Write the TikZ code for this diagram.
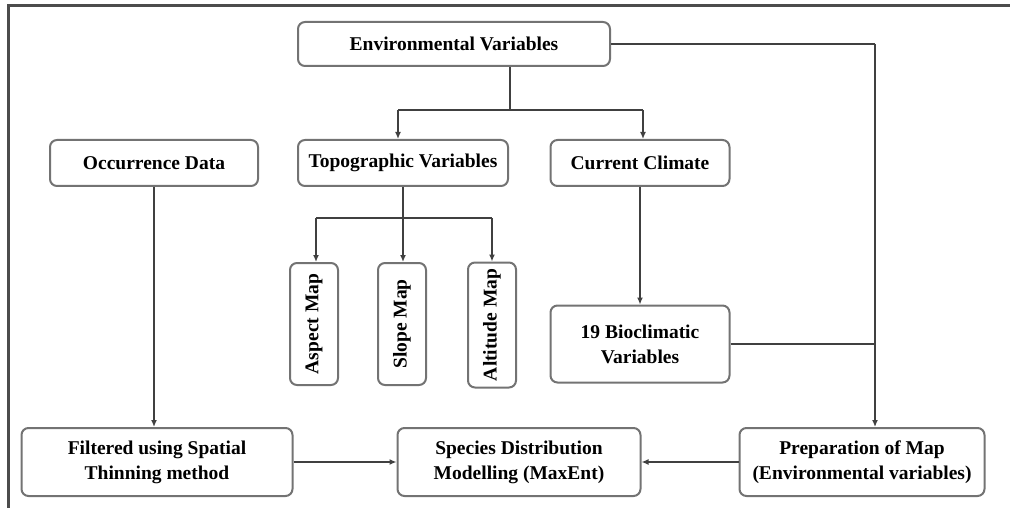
\documentclass[tikz,border=0pt]{standalone}
\usepackage{fontspec}
\setmainfont{Liberation Serif}
\usetikzlibrary{arrows.meta}
\begin{document}
\begin{tikzpicture}[x=1pt,y=-1pt,
  box/.style={draw=black!55, line width=2pt, rounded corners=7pt, fill=white,
    align=center, font=\fontsize{19.5}{25}\selectfont\bfseries, inner sep=0pt},
  conn/.style={draw=black!75, line width=1.3pt},
  arr/.style={conn, -{Latex[length=7pt,width=6pt]}}]
\useasboundingbox (0,0) rectangle (1010,508);
\draw[black!70, line width=3pt] (8,508) -- (8,6) -- (1010,6);
% nodes
\node[box, minimum width=312pt, minimum height=44pt] (env) at (454,44) {Environmental Variables};
\node[box, minimum width=208pt, minimum height=46pt] (occ) at (154,163) {Occurrence Data};
\node[box, minimum width=210pt, minimum height=46pt] (topo) at (403,163) {Topographic Variables};
\node[box, minimum width=179pt, minimum height=46pt] (clim) at (640,163) {Current Climate};
\node[box, rotate=90, minimum width=122pt, minimum height=48pt] (asp) at (314,324) {Aspect Map};
\node[box, rotate=90, minimum width=122pt, minimum height=48pt] (slo) at (402,324) {Slope Map};
\node[box, rotate=90, minimum width=125pt, minimum height=48pt] (alt) at (492,325) {Altitude Map};
\node[box, minimum width=179pt, minimum height=77pt] (bio) at (640,344) {19 Bioclimatic\\Variables};
\node[box, minimum width=271pt, minimum height=68pt] (fil) at (157,462) {Filtered using Spatial\\Thinning method};
\node[box, minimum width=243pt, minimum height=68pt] (sdm) at (519,462) {Species Distribution\\Modelling (MaxEnt)};
\node[box, minimum width=245pt, minimum height=68pt] (prep) at (862,462) {Preparation of Map\\(Environmental variables)};
% coordinates
\coordinate (e1) at (510,110);
\coordinate (eL) at (398,110);
\coordinate (eR) at (643,110);
\coordinate (t1) at (403,218);
\coordinate (tL) at (316,218);
\coordinate (tR) at (492,218);
\coordinate (r1) at (875,44);
\coordinate (r2) at (875,344);
% connectors
\draw[conn] (e1 |- env.south) -- (e1);
\draw[conn] (eL) -- (eR);
\draw[arr] (eL) -- (eL |- topo.north);
\draw[arr] (eR) -- (eR |- clim.north);
\draw[conn] (env.east) -- (r1);
\draw[arr] (r1) -- (r1 |- prep.north);
\draw[conn] (bio.east) -- (r2);
\draw[arr] (occ.south) -- (occ.south |- fil.north);
\draw[conn] (topo.south) -- (t1);
\draw[conn] (tL) -- (tR);
\draw[arr] (tL) -- (tL |- asp.east);
\draw[arr] (t1) -- (t1 |- slo.east);
\draw[arr] (tR) -- (tR |- alt.east);
\draw[arr] (clim.south) -- (bio.north);
\draw[arr] (fil.east) -- (sdm.west);
\draw[arr] (prep.west) -- (sdm.east);
\end{tikzpicture}
\end{document}
